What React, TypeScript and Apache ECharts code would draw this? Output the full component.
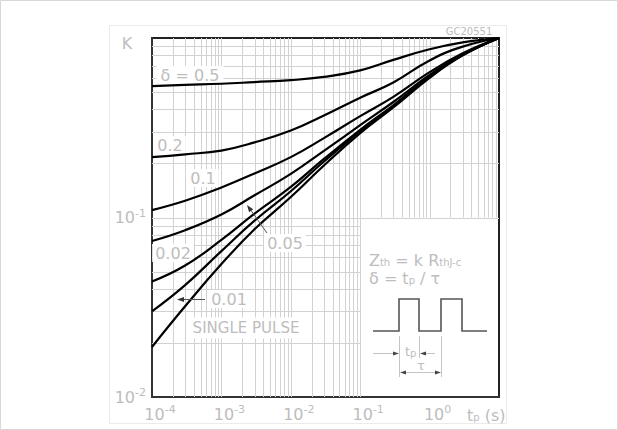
import React, { useEffect, useRef } from "react";
import * as echarts from "echarts";

// Pulse duration tp (s)
const tp = [1e-4, 3e-4, 1e-3, 3e-3, 1e-2, 3e-2, 0.1, 0.3, 1, 3, 10];
// Normalized thermal impedance K for each duty cycle
const kSingle = [0.019, 0.032, 0.055, 0.086, 0.13, 0.195, 0.295, 0.41, 0.6, 0.8, 1];
const k001 = [0.03, 0.042, 0.065, 0.096, 0.14, 0.205, 0.303, 0.418, 0.607, 0.803, 1];
const k002 = [0.044, 0.054, 0.075, 0.105, 0.148, 0.212, 0.308, 0.422, 0.61, 0.805, 1];
const k005 = [0.074, 0.085, 0.104, 0.133, 0.175, 0.235, 0.327, 0.44, 0.622, 0.81, 1];
const k01 = [0.11, 0.124, 0.147, 0.176, 0.217, 0.277, 0.367, 0.47, 0.645, 0.822, 1];
const k02 = [0.217, 0.225, 0.236, 0.262, 0.305, 0.37, 0.465, 0.565, 0.75, 0.895, 1];
const k05 = [0.54, 0.548, 0.556, 0.568, 0.582, 0.607, 0.66, 0.755, 0.865, 0.945, 1];

const curves = [kSingle, k001, k002, k005, k01, k02, k05];

// Axis ranges and grid structure
const xDecades = [1e-4, 1e-3, 1e-2, 1e-1, 1];
const yDecades = [1e-2, 1e-1];
const multipliers = [1, 2, 3, 4, 5, 6, 7, 8, 9];
const X_MIN = 1e-4;
const X_MAX = 10;
const Y_MIN = 1e-2;
const Y_MAX = 1;
const INSET_X = 0.1; // inset region: x >= 0.1, y <= 0.1
const INSET_Y = 0.1;

const LABEL = "#bdbdbd";
const FONT = "DejaVu Sans";

function buildGrid() {
  const segs: number[][] = [];
  xDecades.forEach((d) => {
    multipliers.forEach((m) => {
      const v = d * m;
      if (v <= X_MIN * 1.0001 || v >= X_MAX * 0.9999) return;
      const y0 = v > INSET_X * 1.0001 ? INSET_Y : Y_MIN;
      segs.push([v, y0, v, Y_MAX]);
    });
  });
  yDecades.forEach((d) => {
    multipliers.forEach((m) => {
      const v = d * m;
      if (v <= Y_MIN * 1.0001 || v >= Y_MAX * 0.9999) return;
      const x1 = v < INSET_Y * 0.9999 ? INSET_X : X_MAX;
      segs.push([X_MIN, v, x1, v]);
    });
  });
  return segs;
}

function txt(text: string, x: number, y: number, size = 15, align = "center", extra: any = {}, z = 50) {
  return {
    type: "text",
    x,
    y,
    z,
    style: {
      text,
      x: 0,
      y: 0,
      fill: LABEL,
      fontFamily: FONT,
      fontSize: size,
      align,
      verticalAlign: "middle",
      ...extra,
    },
  };
}

const subRich = {
  b: { fontSize: 16, lineHeight: 15, fill: LABEL, color: LABEL, fontFamily: FONT },
  s: { fontSize: 10, lineHeight: 9, verticalAlign: "bottom", fill: LABEL, color: LABEL, fontFamily: FONT },
};

export default function App() {
  const ref = useRef<HTMLDivElement>(null);
  useEffect(() => {
    document.body.style.margin = "0";
    const chart = echarts.init(ref.current!, undefined, { renderer: "svg" });
    const grid = buildGrid();
    const gray = "#555";
    const dim = "#c4c4c4";
    const bg = { backgroundColor: "#fff", padding: [1, 3] };
    const option: any = {
      animation: false,
      backgroundColor: "#fff",
      grid: {
        left: 152,
        top: 38,
        width: 347,
        height: 359,
        show: true,
        borderColor: "#222",
        borderWidth: 2,
        backgroundColor: "transparent",
      },
      xAxis: {
        type: "log",
        logBase: 10,
        min: X_MIN,
        max: X_MAX,
        axisLine: { show: true, lineStyle: { color: "#333", width: 2 } },
        axisTick: { show: false },
        splitLine: { show: false },
        axisLabel: {
          margin: 7,
          color: LABEL,
          fontFamily: FONT,
          fontSize: 16,
          padding: [0, 0, 0, 16],
          formatter: (v: number) => {
            if (v >= 9.99) return "";
            return `{b|10}{sup|${Math.round(Math.log10(v))}}`;
          },
          rich: {
            b: { fontSize: 16, lineHeight: 20, color: LABEL, fontFamily: FONT },
            sup: { fontSize: 11, lineHeight: 12, verticalAlign: "top", color: LABEL, fontFamily: FONT },
          },
        },
      },
      yAxis: {
        type: "log",
        logBase: 10,
        min: Y_MIN,
        max: Y_MAX,
        axisLine: { show: true, lineStyle: { color: "#333", width: 2 } },
        axisTick: { show: false },
        splitLine: { show: false },
        axisLabel: {
          margin: 6,
          color: LABEL,
          fontFamily: FONT,
          fontSize: 16,
          formatter: (v: number) => {
            if (v >= 0.999) return "";
            return `{b|10}{sup|${Math.round(Math.log10(v))}}`;
          },
          rich: {
            b: { fontSize: 16, lineHeight: 20, color: LABEL, fontFamily: FONT },
            sup: { fontSize: 11, lineHeight: 12, verticalAlign: "top", color: LABEL, fontFamily: FONT },
          },
        },
      },
      series: [
        {
          type: "custom",
          silent: true,
          z: 1,
          clip: true,
          encode: { x: [0, 2], y: [1, 3] },
          data: grid,
          renderItem: (_p: any, api: any) => {
            const a = api.coord([api.value(0), api.value(1)]);
            const b = api.coord([api.value(2), api.value(3)]);
            const vertical = Math.abs(a[0] - b[0]) < 0.5;
            const ax = vertical ? Math.round(a[0]) + 0.5 : a[0];
            const bx = vertical ? Math.round(b[0]) + 0.5 : b[0];
            const ay = vertical ? a[1] : Math.round(a[1]) + 0.5;
            const by = vertical ? b[1] : Math.round(b[1]) + 0.5;
            return {
              type: "line",
              shape: { x1: ax, y1: ay, x2: bx, y2: by },
              style: { stroke: "#d2d2d2", lineWidth: 1 },
            };
          },
        },
        ...curves.map((k) => ({
          type: "line",
          z: 5,
          data: tp.map((t, i) => [t, k[i]]),
          showSymbol: false,
          smooth: 0.45,
          lineStyle: { color: "#000", width: 2.2 },
          silent: true,
        })),
      ],
      graphic: [
        // outer frames
        { type: "rect", shape: { x: 0.5, y: 0.5, width: 617, height: 429 }, style: { fill: "none", stroke: "#d8d8d8", lineWidth: 1 }, silent: true },
        { type: "rect", shape: { x: 109.5, y: 25.5, width: 397, height: 398 }, style: { fill: "none", stroke: "#ebebeb", lineWidth: 1 }, silent: true },
        txt("K", 127, 43, 16),
        txt("GC20551", 469, 31, 10),
        txt("δ = 0.5", 190, 75, 16, "center", { backgroundColor: "#fff", padding: [1, 4] }, 3),
        txt("0.2", 170, 145, 16, "center", bg, 3),
        txt("0.1", 203, 178, 16, "center", bg, 3),
        txt("0.05", 285, 243, 16, "center", bg, 3),
        txt("0.02", 173, 253, 16, "center", bg, 3),
        txt("0.01", 229, 299, 16, "center", bg, 3),
        txt("SINGLE PULSE", 246, 328, 15, "center", { backgroundColor: "#fff", padding: [3, 5] }, 3),
        // arrows to curves
        { type: "line", z: 50, shape: { x1: 267, y1: 233, x2: 250, y2: 209 }, style: { stroke: "#555", lineWidth: 1 } },
        { type: "polygon", z: 50, shape: { points: [[247, 205], [253.1, 209.2], [249.1, 212.2]] }, style: { fill: "#333" } },
        { type: "line", z: 50, shape: { x1: 205, y1: 299.5, x2: 181, y2: 299.5 } , style: { stroke: "#555", lineWidth: 1 } },
        { type: "polygon", z: 50, shape: { points: [[177, 299.5], [184, 297], [184, 302]] }, style: { fill: "#333" } },
        // inset formulas
        {
          type: "text",
          x: 369,
          y: 260,
          z: 50,
          style: { text: "{b|Z}{s|th}{b| = k R}{s|thJ-c}", rich: subRich, fill: LABEL, fontFamily: FONT, verticalAlign: "middle" },
        },
        {
          type: "text",
          x: 369,
          y: 278,
          z: 50,
          style: { text: "{b|δ = t}{s|p}{b| / τ}", rich: subRich, fill: LABEL, fontFamily: FONT, verticalAlign: "middle" },
        },
        // pulse waveform
        {
          type: "polyline",
          z: 50,
          shape: {
            points: [[373, 331], [399, 331], [399, 299], [419, 299], [419, 331], [441, 331], [441, 299], [462, 299], [462, 331], [487, 331]],
          },
          style: { stroke: gray, lineWidth: 1.6, fill: "none" },
        },
        // dimension extension lines
        { type: "line", z: 50, shape: { x1: 399.5, y1: 336, x2: 399.5, y2: 377 }, style: { stroke: dim, lineWidth: 1 } },
        { type: "line", z: 50, shape: { x1: 419.5, y1: 336, x2: 419.5, y2: 358 }, style: { stroke: dim, lineWidth: 1 } },
        { type: "line", z: 50, shape: { x1: 441.5, y1: 336, x2: 441.5, y2: 377 }, style: { stroke: dim, lineWidth: 1 } },
        // tp arrows
        { type: "line", z: 50, shape: { x1: 373, y1: 353.5, x2: 394, y2: 353.5 }, style: { stroke: dim, lineWidth: 1 } },
        { type: "polygon", z: 50, shape: { points: [[399, 353.5], [393, 351.5], [393, 355.5]] }, style: { fill: "#444" } },
        { type: "line", z: 50, shape: { x1: 425, y1: 353.5, x2: 435, y2: 353.5 }, style: { stroke: dim, lineWidth: 1 } },
        { type: "polygon", z: 50, shape: { points: [[420, 353.5], [426, 351.5], [426, 355.5]] }, style: { fill: "#444" } },
        {
          type: "text",
          x: 405,
          y: 351,
          z: 50,
          style: { text: "{b|t}{s|p}", rich: { b: { ...subRich.b, fontSize: 13 }, s: subRich.s }, fill: LABEL, fontFamily: FONT, verticalAlign: "middle" },
        },
        // tau arrow
        { type: "line", z: 50, shape: { x1: 403, y1: 372.5, x2: 437, y2: 372.5 }, style: { stroke: dim, lineWidth: 1 } },
        { type: "polygon", z: 50, shape: { points: [[400, 372.5], [406, 370.5], [406, 374.5]] }, style: { fill: "#444" } },
        { type: "polygon", z: 50, shape: { points: [[441, 372.5], [435, 370.5], [435, 374.5]] }, style: { fill: "#444" } },
        txt("τ", 421, 365, 13),
        // x axis name
        {
          type: "text",
          x: 467,
          y: 415,
          z: 50,
          style: { text: "{b|t}{s|p}{b| (s)}", rich: { b: { ...subRich.b, fontSize: 16 }, s: subRich.s }, fill: LABEL, fontFamily: FONT, verticalAlign: "middle" },
        },
      ],
    };
    chart.setOption(option);
    return () => chart.dispose();
  }, []);
  return <div ref={ref} style={{ width: 618, height: 430 }} />;
}
